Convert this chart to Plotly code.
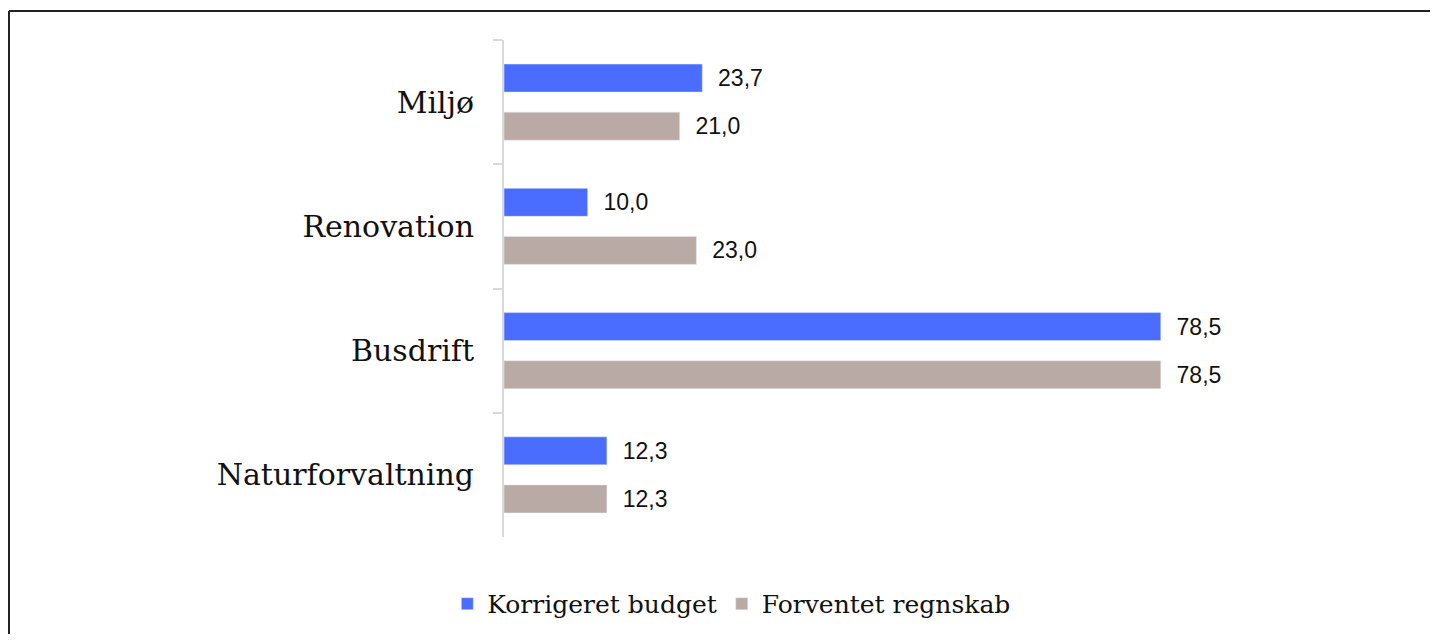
import plotly.graph_objects as go

categories = ["Miljø", "Renovation", "Busdrift", "Naturforvaltning"]
korrigeret_budget = [23.7, 10.0, 78.5, 12.3]
forventet_regnskab = [21.0, 23.0, 78.5, 12.3]
series_names = ["Korrigeret budget", "Forventet regnskab"]

# page body has an 8px margin, so figure coords = screen coords - 8
W, H = 1422, 626
L, R, T, B = 496, 173, 32, 97
PW = W - L - R
PH = H - T - B

fig = go.Figure()
fig.add_trace(go.Bar(
    y=categories, x=korrigeret_budget, name=series_names[0], orientation="h",
    marker=dict(color="#4a6dff"),
    texttemplate="  %{x:.1f}", textposition="outside", cliponaxis=False,
    textfont=dict(family="Liberation Sans, Arial, sans-serif", size=23, color="#111111"),
))
fig.add_trace(go.Bar(
    y=categories, x=forventet_regnskab, name=series_names[1], orientation="h",
    marker=dict(color="#b9aaa5"),
    texttemplate="  %{x:.1f}", textposition="outside", cliponaxis=False,
    textfont=dict(family="Liberation Sans, Arial, sans-serif", size=23, color="#111111"),
))

def px_x(px):
    return (px - L) / PW

def px_y(py):
    return (H - B - py) / PH

fig.update_layout(
    width=W, height=H,
    margin=dict(l=L, r=R, t=T, b=B),
    paper_bgcolor="white", plot_bgcolor="white",
    separators=",.",
    barmode="group", bargap=0.226, bargroupgap=0.417,
    font=dict(family="DejaVu Serif, serif", color="#111111"),
    showlegend=True,
    legend=dict(orientation="h", xref="container", yref="container",
                x=0.509, xanchor="center", y=0.048, yanchor="middle",
                font=dict(family="DejaVu Serif, serif", size=25, color="#111111"),
                itemwidth=30, traceorder="normal"),
    xaxis=dict(range=[0, 90], showgrid=False, showticklabels=False, zeroline=False,
               showline=False, ticks=""),
    yaxis=dict(categoryorder="array", categoryarray=categories, autorange="reversed",
               showgrid=False, showline=True, linecolor="#d9d9d9", linewidth=2,
               ticks="outside", tickson="boundaries", ticklen=9, tickcolor="#d9d9d9",
               tickwidth=2, ticklabelstandoff=22,
               tickfont=dict(family="DejaVu Serif, serif", size=30, color="#111111")),
    shapes=[
        dict(type="line", xref="paper", yref="paper",
             x0=px_x(1), x1=px_x(W + 5), y0=px_y(3), y1=px_y(3),
             line=dict(color="#222222", width=2)),
        dict(type="line", xref="paper", yref="paper",
             x0=px_x(1), x1=px_x(1), y0=px_y(3), y1=px_y(H + 5),
             line=dict(color="#222222", width=2)),
    ],
)

fig.write_html("out.html")
